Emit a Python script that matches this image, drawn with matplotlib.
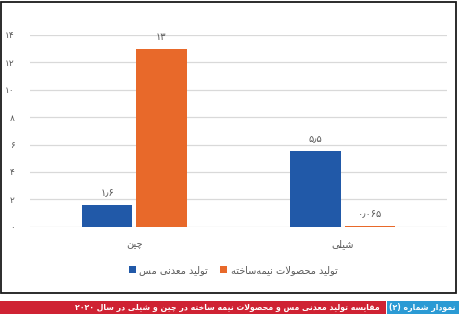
import matplotlib
matplotlib.use("Agg")
import matplotlib.pyplot as plt
from matplotlib.patches import Rectangle
import numpy as np

# ---- data ----
categories = ['چین', 'شیلی']
series_names = ['تولید معدنی مس', 'تولید محصولات نیمه\u200cساخته']
mine_copper = [1.6, 5.5]
semi_products = [13, 0.065]
y_ticks = [0, 2, 4, 6, 8, 10, 12, 14]
caption_no = 'نمودار شماره (2)'
caption_text = 'مقایسه تولید معدنی مس و محصولات نیمه ساخته در چین و شیلی در سال 2020'

# ---- minimal Arabic-script shaping and visual ordering ----
FORMS = {
    'ا': (0xFE8D, 0xFE8E), 'د': (0xFEA9, 0xFEAA), 'ر': (0xFEAD, 0xFEAE),
    'و': (0xFEED, 0xFEEE), 'ز': (0xFEAF, 0xFEB0), 'ذ': (0xFEAB, 0xFEAC),
    'ب': (0xFE8F, 0xFE90, 0xFE91, 0xFE92), 'ت': (0xFE95, 0xFE96, 0xFE97, 0xFE98),
    'ح': (0xFEA1, 0xFEA2, 0xFEA3, 0xFEA4), 'خ': (0xFEA5, 0xFEA6, 0xFEA7, 0xFEA8),
    'س': (0xFEB1, 0xFEB2, 0xFEB3, 0xFEB4), 'ش': (0xFEB5, 0xFEB6, 0xFEB7, 0xFEB8),
    'ص': (0xFEB9, 0xFEBA, 0xFEBB, 0xFEBC), 'ع': (0xFEC9, 0xFECA, 0xFECB, 0xFECC),
    'ق': (0xFED5, 0xFED6, 0xFED7, 0xFED8), 'ل': (0xFEDD, 0xFEDE, 0xFEDF, 0xFEE0),
    'م': (0xFEE1, 0xFEE2, 0xFEE3, 0xFEE4), 'ن': (0xFEE5, 0xFEE6, 0xFEE7, 0xFEE8),
    'ه': (0xFEE9, 0xFEEA, 0xFEEB, 0xFEEC), 'ی': (0xFBFC, 0xFBFD, 0xFBFE, 0xFBFF),
    'چ': (0xFB7A, 0xFB7B, 0xFB7C, 0xFB7D), 'ف': (0xFED1, 0xFED2, 0xFED3, 0xFED4),
}
FA_DIGITS = str.maketrans('0123456789.', '۰۱۲۳۴۵۶۷۸۹٫')


def fa_num(v):
    return ('{:g}'.format(v)).translate(FA_DIGITS)


def shape(text):
    text = text.translate(str.maketrans('0123456789', '۰۱۲۳۴۵۶۷۸۹'))
    chars = list(text)
    out = []
    i = 0
    n = len(chars)

    def joins_left(c):
        return c in FORMS and len(FORMS[c]) == 4

    while i < n:
        c = chars[i]
        if c == '\u200c':
            i += 1
            continue
        if c not in FORMS:
            out.append(c)
            i += 1
            continue
        prev = chars[i - 1] if i > 0 else ''
        from_prev = joins_left(prev)
        if c == 'ل' and i + 1 < n and chars[i + 1] == 'ا':
            out.append(chr(0xFEFC if from_prev else 0xFEFB))
            i += 2
            continue
        nxt = chars[i + 1] if i + 1 < n else ''
        to_next = joins_left(c) and nxt in FORMS
        f = FORMS[c]
        if from_prev and to_next:
            out.append(chr(f[3]))
        elif from_prev:
            out.append(chr(f[1]))
        elif to_next:
            out.append(chr(f[2]))
        else:
            out.append(chr(f[0]))
        i += 1
    s = ''.join(out)
    # visual order: reverse, keeping digit runs left-to-right
    digits = set('۰۱۲۳۴۵۶۷۸۹0123456789')
    mirror = {'(': ')', ')': '('}
    tokens = []
    i = 0
    while i < len(s):
        if s[i] in digits:
            j = i
            while j < len(s) and (s[j] in digits or (s[j] in '٫.' and j + 1 < len(s) and s[j + 1] in digits)):
                j += 1
            tokens.append(s[i:j])
            i = j
        else:
            tokens.append(mirror.get(s[i], s[i]))
            i += 1
    return ''.join(reversed(tokens))


# ---- figure ----
W, H = 460, 322
fig = plt.figure(figsize=(W / 100, H / 100), dpi=100)
plt.rcParams['font.family'] = ['DejaVu Sans']

ax = fig.add_axes([30 / W, 1 - 226.7 / H, (447 - 30) / W, (226.7 - 35) / H])

blue = '#2159a8'
orange = '#e8692a'
grey_text = '#595959'

x = np.arange(len(categories))
bw = 0.242
off = 0.13
b1 = ax.bar(x - off, mine_copper, bw, color=blue, label=shape(series_names[0]), zorder=3)
b2 = ax.bar(x + off, semi_products, bw, color=orange, label=shape(series_names[1]), zorder=3)

for bars, vals in ((b1, mine_copper), (b2, semi_products)):
    for rect, v in zip(bars, vals):
        ax.annotate(fa_num(v), (rect.get_x() + rect.get_width() / 2, v),
                    xytext=(0, 7), textcoords='offset pixels',
                    ha='center', va='bottom', fontsize=7, color=grey_text)

ax.set_xlim(-0.5, len(categories) - 0.5)
ax.set_ylim(0, 14)
ax.set_yticks(y_ticks)
ax.set_yticklabels([fa_num(t) for t in y_ticks])
ax.set_xticks(x)
ax.set_xticklabels([shape(c) for c in categories])
ax.tick_params(axis='y', length=0, pad=11, labelsize=6.5, labelcolor=grey_text)
ax.tick_params(axis='x', length=0, pad=9, labelsize=7, labelcolor=grey_text)
for sp in ax.spines.values():
    sp.set_visible(False)
ax.yaxis.grid(True, color='#d9d9d9', linewidth=0.9, zorder=0)
ax.set_axisbelow(True)

leg = fig.legend(handles=[b1, b2], loc='center', bbox_to_anchor=(233 / W, 1 - 270 / H),
                 ncol=2, frameon=False, fontsize=7, handlelength=0.7, handleheight=0.7,
                 handletextpad=0.4, columnspacing=1.2)
for t in leg.get_texts():
    t.set_color(grey_text)

# outer frame
fig.patches.append(Rectangle((1.5 / W, 1 - 293 / H), 454.5 / W, 291 / H,
                             transform=fig.transFigure, fill=False,
                             edgecolor='#1a1a1a', linewidth=1.3))

# caption band
fig.patches.append(Rectangle((0, 1 - 313.5 / H), 386 / W, 13 / H,
                             transform=fig.transFigure, color='#cf2233', lw=0))
fig.patches.append(Rectangle((387 / W, 1 - 313.5 / H), 73 / W, 13 / H,
                             transform=fig.transFigure, color='#2b9ad4', lw=0))
fig.text(422 / W, 1 - 307 / H, shape(caption_no), ha='center', va='center',
         color='white', fontsize=5.6, fontweight='bold')
fig.text(380 / W, 1 - 307 / H, shape(caption_text), ha='right', va='center',
         color='white', fontsize=5.6, fontweight='bold')

fig.savefig('out.png', dpi=100)
